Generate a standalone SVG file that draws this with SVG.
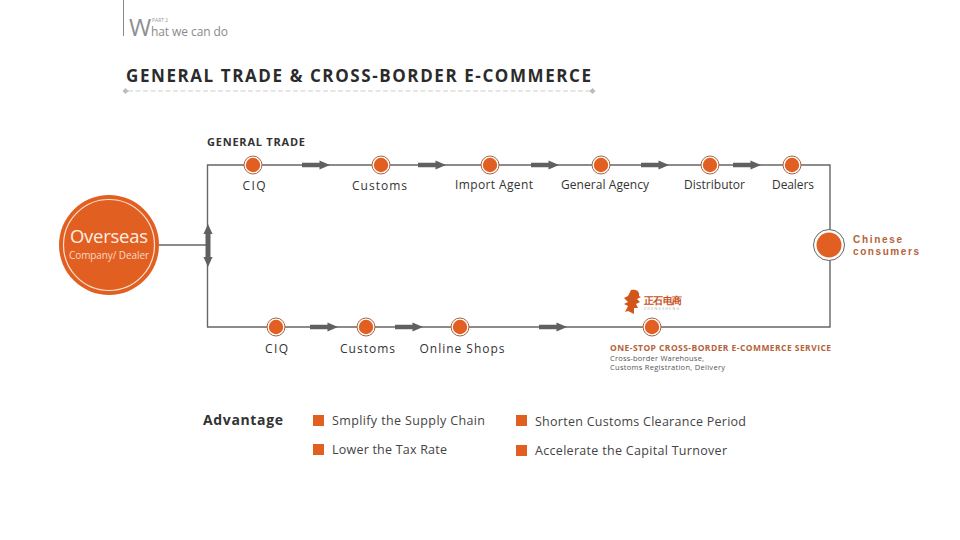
<svg xmlns="http://www.w3.org/2000/svg" width="960" height="540" viewBox="0 0 960 540">
<defs>
<style>
text{font-family:"Open Sans","Noto Sans","Liberation Sans",sans-serif}
.lbl{font-size:12px;fill:#333;text-anchor:middle}
.adv{font-size:12.5px;fill:#444}
.line{fill:none;stroke:#666;stroke-width:1.4}
.arrow{fill:#606060}
.or{fill:#e25f22}
.ot{fill:#b5633a;font-weight:700}
.cn{font-family:"Liberation Sans",Arial,sans-serif;font-size:10px}
</style>
<path id="arr" d="M0,-2.200H17.500V-4.500L28,0L17.500,4.500V2.200H0Z"/>
<g id="dot"><circle r="9" fill="#fff" stroke="#a8623f" stroke-width="1"/><circle r="7.200" fill="#e25f22"/></g>
</defs>
<rect width="960" height="540" fill="#fff"/>
<g id="header">
<line x1="123.500" y1="0" x2="123.500" y2="36" stroke="#888" stroke-width="1"/>
<text x="129" y="36" font-size="24" fill="#8f8f8f">W</text>
<text x="152" y="21.500" font-size="5" fill="#999">PART 2</text>
<text x="151" y="36" font-size="12" fill="#8a8a8a" textLength="77">hat we can do</text>
<text x="126" y="82" font-size="17" font-weight="700" fill="#2b2b2b" textLength="465">GENERAL TRADE &amp; CROSS-BORDER E-COMMERCE</text>
<line x1="128" y1="91" x2="590" y2="91" stroke="#ccc" stroke-width="1" stroke-dasharray="5 2.500"/>
<path d="M125.500,88 L128.500,91 L125.500,94 L122.500,91Z M592.500,88 L595.500,91 L592.500,94 L589.500,91Z" fill="#bbb"/>
</g>
<g id="connectors">
<path class="line" d="M159,245H207.500M207.500,165H830V327H207.500Z"/>
<g class="arrow">
<use href="#arr" x="302" y="165"/><use href="#arr" x="418" y="165"/><use href="#arr" x="531" y="165"/><use href="#arr" x="641" y="165"/><use href="#arr" x="733" y="165"/>
<use href="#arr" x="310" y="327"/><use href="#arr" x="395" y="327"/><use href="#arr" x="539" y="327"/>
<path d="M208,224L212.500,234H210.500V257H212.500L208,267L203.500,257H205.500V234H203.500Z"/>
</g>
</g>
<text x="207" y="146" font-size="11" font-weight="700" fill="#333" textLength="98">GENERAL TRADE</text>
<g id="overseas">
<circle cx="109" cy="245" r="50" class="or"/><circle cx="109" cy="245" r="45.500" fill="none" stroke="#fbe3d2" stroke-width="1.200"/>
<text x="109" y="243" font-size="18.500" fill="#fdeee3" text-anchor="middle" textLength="78">Overseas</text>
<text x="109" y="259" font-size="10" fill="#f8d9c4" text-anchor="middle" textLength="80">Company/ Dealer</text>
</g>
<g id="t1"><use href="#dot" x="253" y="165"/><text class="lbl" x="254" y="190" textLength="23">CIQ</text></g>
<g id="t2"><use href="#dot" x="381" y="165"/><text class="lbl" x="379.500" y="190" textLength="55">Customs</text></g>
<g id="t3"><use href="#dot" x="490" y="165"/><text class="lbl" x="494" y="189" textLength="78">Import Agent</text></g>
<g id="t4"><use href="#dot" x="601" y="165"/><text class="lbl" x="605" y="189" textLength="88">General Agency</text></g>
<g id="t5"><use href="#dot" x="710" y="165"/><text class="lbl" x="714.500" y="189" textLength="61">Distributor</text></g>
<g id="t6"><use href="#dot" x="792" y="165"/><text class="lbl" x="793" y="189" textLength="42">Dealers</text></g>
<g id="consumers">
<circle cx="829" cy="245" r="15.500" fill="#fff" stroke="#666" stroke-width="1"/><circle cx="829" cy="245" r="12.500" class="or"/>
<text x="853" y="243" class="ot cn" textLength="49">Chinese</text>
<text x="853" y="254.500" class="ot cn" textLength="66">consumers</text>
</g>
<g id="b1"><use href="#dot" x="276" y="327"/><text class="lbl" x="276.500" y="353" textLength="23">CIQ</text></g>
<g id="b2"><use href="#dot" x="366" y="327"/><text class="lbl" x="367.500" y="353" textLength="55">Customs</text></g>
<g id="b3"><use href="#dot" x="460" y="327"/><text class="lbl" x="462" y="353" textLength="85">Online Shops</text></g>
<g id="b4">
<use href="#dot" x="652" y="327"/>
<path d="M631,290C637,289 640,292 639,296L641,297L637,299L640,302L636,304L638,308L634,308L634,314L628,311L625,312L628,306L624,304L628,302L624,298L628,296Z" fill="#d2561c"/>
<text x="644" y="304" font-size="9.500" fill="#c9501b" font-weight="700" font-family="'Noto Sans CJK SC',sans-serif" textLength="38">正石电商</text>
<text x="644" y="310" font-size="3.500" fill="#aaa" textLength="35">ZHENGSHENG</text>
<text x="610" y="351" font-size="8.500" class="ot" textLength="221">ONE-STOP CROSS-BORDER E-COMMERCE SERVICE</text>
<text x="610" y="361" font-size="7.500" fill="#555" textLength="94">Cross-border Warehouse,</text>
<text x="610" y="370" font-size="7.500" fill="#555" textLength="115">Customs Registration, Delivery</text>
</g>
<g id="advantage">
<text x="203" y="425" font-size="14" font-weight="700" fill="#333" textLength="80">Advantage</text>
<rect class="or" x="313" y="415" width="11" height="11"/><text class="adv" x="332" y="425" textLength="153">Smplify the Supply Chain</text>
<rect class="or" x="516" y="415" width="11" height="11"/><text class="adv" x="535" y="426" textLength="211">Shorten Customs Clearance Period</text>
<rect class="or" x="313" y="444" width="11" height="11"/><text class="adv" x="332" y="454" textLength="115">Lower the Tax Rate</text>
<rect class="or" x="516" y="445" width="11" height="11"/><text class="adv" x="535" y="455" textLength="192">Accelerate the Capital Turnover</text>
</g>
</svg>
